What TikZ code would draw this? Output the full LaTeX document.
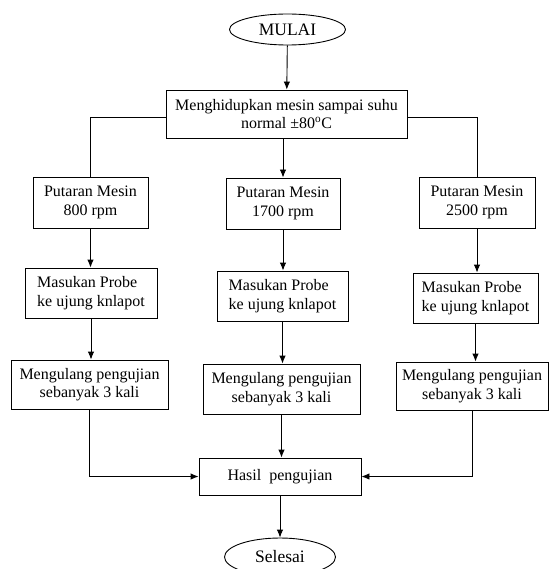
\documentclass[tikz,border=0pt]{standalone}
\usepackage{fontspec}
\setmainfont{Liberation Serif}
\usetikzlibrary{calc,arrows.meta,shapes.geometric}

\begin{document}
\begin{tikzpicture}[x=1pt,y=-1pt,line width=0.9pt,
    box/.style={draw,rectangle,inner sep=0pt,align=center,font=\fontsize{16}{18.5}\selectfont},
    term/.style={draw,ellipse,inner sep=0pt,font=\fontsize{17.5}{20}\selectfont},
    arr/.style={-{Latex[length=8pt,width=6.5pt]}}]
    \useasboundingbox (0,0) rectangle (550,569);
    \coordinate (S) at (287.5,29.5);
    \coordinate (I) at (286.5,114);
    \coordinate (P1) at (90.5,202.5);
    \coordinate (P2) at (283,203.5);
    \coordinate (P3) at (477,202.5);
    \coordinate (M1) at (91,293);
    \coordinate (M2) at (282.5,296);
    \coordinate (M3) at (475.5,298);
    \coordinate (U1) at (89.5,384.5);
    \coordinate (U2) at (281.5,389);
    \coordinate (U3) at (472,386);
    \coordinate (H) at (280,476.5);
    \coordinate (E) at (280,557);
    \node[term,minimum width=116pt,minimum height=31pt] (mulai) at (S) {MULAI};
    \node[box,minimum width=241pt,minimum height=48pt] (hidup) at (I) {Menghidupkan mesin sampai suhu\\normal ±80\textsuperscript{o}C};
    \node[box,minimum width=115pt,minimum height=51pt] (putar1) at (P1) {Putaran Mesin\\800 rpm};
    \node[box,minimum width=114pt,minimum height=51pt] (putar2) at (P2) {Putaran Mesin\\1700 rpm};
    \node[box,minimum width=116pt,minimum height=51pt] (putar3) at (P3) {Putaran Mesin\\2500 rpm};
    \node[box,align=left,minimum width=132pt,minimum height=50pt] (probe1) at (M1) {Masukan Probe\\ke ujung knlapot};
    \node[box,align=left,minimum width=131pt,minimum height=50pt] (probe2) at (M2) {Masukan Probe\\ke ujung knlapot};
    \node[box,align=left,minimum width=125pt,minimum height=50pt] (probe3) at (M3) {Masukan Probe\\ke ujung knlapot};
    \node[box,minimum width=157pt,minimum height=49pt] (ulang1) at (U1) {Mengulang pengujian\\sebanyak 3 kali};
    \node[box,minimum width=157pt,minimum height=50pt] (ulang2) at (U2) {Mengulang pengujian\\sebanyak 3 kali};
    \node[box,minimum width=152pt,minimum height=48pt] (ulang3) at (U3) {Mengulang pengujian\\sebanyak 3 kali};
    \node[box,minimum width=162pt,minimum height=37pt] (hasil) at (H) {Hasil~ pengujian};
    \node[term,minimum width=111pt,minimum height=38pt] (selesai) at (E) {Selesai};
    \draw[arr] (mulai) -- (hidup);
    \draw ([yshift=-3pt]hidup.west) -| (putar1.north);
    \draw ([yshift=-3pt]hidup.east) -| (putar3.north);
    \draw[arr] (hidup.south -| putar2.north) -- (putar2.north);
    \draw[arr] (putar1.south) -- (putar1.south |- probe1.north);
    \draw[arr] (putar2.south) -- (putar2.south |- probe2.north);
    \draw[arr] (putar3.south) -- (putar3.south |- probe3.north);
    \draw[arr] (probe1.south) -- (probe1.south |- ulang1.north);
    \draw[arr] (probe2.south) -- (probe2.south |- ulang2.north);
    \draw[arr] (probe3.south) -- (probe3.south |- ulang3.north);
    \draw[arr] (ulang1.south) |- (hasil.west);
    \draw[arr] (ulang3.south) |- (hasil.east);
    \draw[arr] (ulang2.south) -- (ulang2.south |- hasil.north);
    \draw[arr] (hasil) -- (selesai);
\end{tikzpicture}
\end{document}
